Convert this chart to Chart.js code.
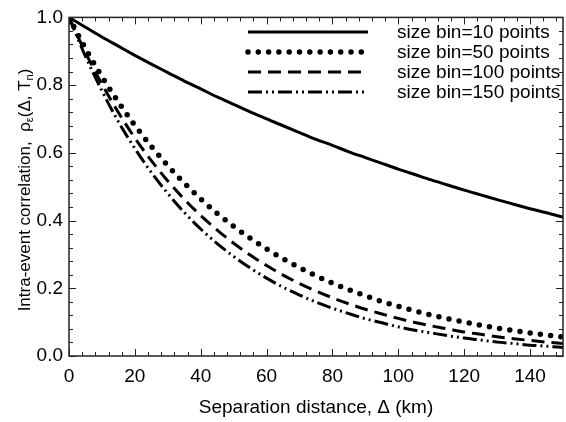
<!DOCTYPE html>
<html>
<head>
<meta charset="utf-8">
<script src="https://cdn.jsdelivr.net/npm/chart.js@4.4.1/dist/chart.umd.min.js"></script>
<style>
	html, body { margin: 0; padding: 0; background: #fff; }
</style>
</head>
<body>
<canvas id="chart" width="566" height="422"></canvas>
<script>
// separation distance (km) and correlation
const DIST = [0, 5, 10, 15, 20, 25, 30, 35, 40, 45, 50, 55, 60, 65, 70, 75,
	80, 85, 90, 95, 100, 105, 110, 115, 120, 125, 130, 135, 140, 145, 150];

const BIN10 = [1.000, 0.971, 0.942, 0.915, 0.888, 0.862, 0.837, 0.812, 0.789, 0.765, 0.743,
	0.721, 0.700, 0.680, 0.660, 0.640, 0.622, 0.603, 0.586, 0.569, 0.552,
	0.536, 0.520, 0.505, 0.490, 0.476, 0.462, 0.448, 0.435, 0.423, 0.410];

const BIN50 = [1.000, 0.908, 0.825, 0.750, 0.681, 0.619, 0.562, 0.511, 0.464, 0.421, 0.383,
	0.348, 0.316, 0.287, 0.261, 0.237, 0.215, 0.196, 0.178, 0.161, 0.147,
	0.133, 0.121, 0.110, 0.100, 0.091, 0.082, 0.075, 0.068, 0.062, 0.056];

const BIN100 = [1.000, 0.896, 0.803, 0.719, 0.644, 0.577, 0.517, 0.463, 0.415, 0.372, 0.333,
	0.298, 0.267, 0.239, 0.214, 0.192, 0.172, 0.154, 0.138, 0.124, 0.111,
	0.099, 0.089, 0.080, 0.071, 0.064, 0.057, 0.051, 0.046, 0.041, 0.037];

const BIN150 = [1.000, 0.885, 0.783, 0.692, 0.613, 0.542, 0.480, 0.424, 0.375, 0.332, 0.294,
	0.260, 0.230, 0.203, 0.180, 0.159, 0.141, 0.125, 0.110, 0.098, 0.086,
	0.076, 0.068, 0.060, 0.053, 0.047, 0.041, 0.037, 0.032, 0.029, 0.025];

const LABELS = ['size bin=10 points', 'size bin=50 points', 'size bin=100 points', 'size bin=150 points'];

const FONT = "'Liberation Sans', Arial, sans-serif";

const toPoints = (ys) => DIST.map((x, i) => ({x: x, y: ys[i]}));

//frame with inward major/minor ticks on all four sides
const framePlugin = {
	id: 'frame',
	afterDatasetsDraw(chart) {
		const {ctx, chartArea: {left, right, top, bottom}} = chart;
		const xs = chart.scales.x, ys = chart.scales.y;
		ctx.save();
		ctx.strokeStyle = '#222';
		ctx.lineWidth = 1.5;
		ctx.setLineDash([]);
		ctx.strokeRect(left, top, right - left, bottom - top);
		ctx.lineWidth = 1;
		ctx.beginPath();
		for (let v = 0; v <= 150; v += 4) {
			let px = Math.round(xs.getPixelForValue(v)) + 0.5;
			let len = v % 20 === 0 ? 7 : 4;
			ctx.moveTo(px, bottom); ctx.lineTo(px, bottom - len);
			ctx.moveTo(px, top); ctx.lineTo(px, top + len);
		}
		for (let k = 0; k <= 25; k++) {
			let py = Math.round(ys.getPixelForValue(k * 0.04)) + 0.5;
			let len = k % 5 === 0 ? 7 : 4;
			ctx.moveTo(left, py); ctx.lineTo(left + len, py);
			ctx.moveTo(right, py); ctx.lineTo(right - len, py);
		}
		ctx.stroke();
		ctx.restore();
	}
};

//legend inside the plot, drawn with each dataset's own line style
const legendPlugin = {
	id: 'insideLegend',
	afterDraw(chart) {
		const ctx = chart.ctx;
		ctx.save();
		chart.data.datasets.forEach((ds, i) => {
			let y = 32 + 20 * i;
			ctx.strokeStyle = '#000';
			ctx.lineWidth = ds.borderWidth;
			ctx.lineCap = ds.borderCapStyle || 'butt';
			ctx.setLineDash(ds.borderDash || []);
			ctx.beginPath();
			ctx.moveTo(248, y);
			ctx.lineTo(368, y);
			ctx.stroke();
			ctx.setLineDash([]);
			ctx.fillStyle = '#000';
			ctx.font = `19px ${FONT}`;
			ctx.textBaseline = 'middle';
			ctx.textAlign = 'left';
			ctx.fillText(ds.label, 397, y + 1);
		});
		ctx.restore();
	}
};

//rotated y title with subscripts
const yTitlePlugin = {
	id: 'yTitle',
	afterDraw(chart) {
		const ctx = chart.ctx;
		const parts = [
			{t: 'Intra-event correlation,  \u03C1', sub: false},
			{t: '\u03B5', sub: true},
			{t: '(\u0394, T', sub: false},
			{t: 'n', sub: true},
			{t: ')', sub: false}
		];
		const big = `17px ${FONT}`, small = `11px ${FONT}`;
		ctx.save();
		let total = 0;
		parts.forEach(p => { ctx.font = p.sub ? small : big; p.w = ctx.measureText(p.t).width; total += p.w; });
		ctx.translate(24, 190);
		ctx.rotate(-Math.PI / 2);
		ctx.fillStyle = '#000';
		ctx.textBaseline = 'alphabetic';
		ctx.textAlign = 'left';
		let x = -total / 2;
		parts.forEach(p => {
			ctx.font = p.sub ? small : big;
			ctx.fillText(p.t, x, p.sub ? 9 : 6);
			x += p.w;
		});
		ctx.restore();
	}
};

const ctx = document.querySelector('#chart').getContext('2d');

new Chart(ctx, {
	type: 'line',
	data: {
		datasets: [
			{label: LABELS[0], data: toPoints(BIN10), borderWidth: 3, borderDash: []},
			{label: LABELS[1], data: toPoints(BIN50), borderWidth: 5.5, borderDash: [0, 10.3], borderCapStyle: 'round'},
			{label: LABELS[2], data: toPoints(BIN100), borderWidth: 3, borderDash: [13, 7]},
			{label: LABELS[3], data: toPoints(BIN150), borderWidth: 3, borderDash: [14, 4, 2, 4, 2, 4]}
		]
	},
	options: {
		responsive: false,
		animation: false,
		layout: {padding: {left: 0, right: 3, top: 13, bottom: 0}},
		elements: {
			point: {radius: 0},
			line: {borderColor: '#000', fill: false, cubicInterpolationMode: 'monotone'}
		},
		plugins: {
			legend: {display: false},
			tooltip: {enabled: false}
		},
		scales: {
			x: {
				type: 'linear',
				min: 0,
				max: 150,
				grid: {display: false, drawTicks: false},
				border: {display: false},
				ticks: {stepSize: 20, includeBounds: false, padding: 9, color: '#000', font: {family: FONT, size: 19}},
				title: {display: true, text: 'Separation distance, \u0394 (km)', color: '#000',
					font: {family: FONT, size: 19}, padding: {top: 0, bottom: 3}},
				afterFit: (scale) => { scale.height = 66; }
			},
			y: {
				type: 'linear',
				min: 0,
				max: 1,
				grid: {display: false, drawTicks: false},
				border: {display: false},
				ticks: {stepSize: 0.2, padding: 6, color: '#000', font: {family: FONT, size: 19},
					callback: (v) => v.toFixed(1)},
				afterFit: (scale) => { scale.width = 69; }
			}
		}
	},
	plugins: [framePlugin, legendPlugin, yTitlePlugin]
});
</script>
</body>
</html>
